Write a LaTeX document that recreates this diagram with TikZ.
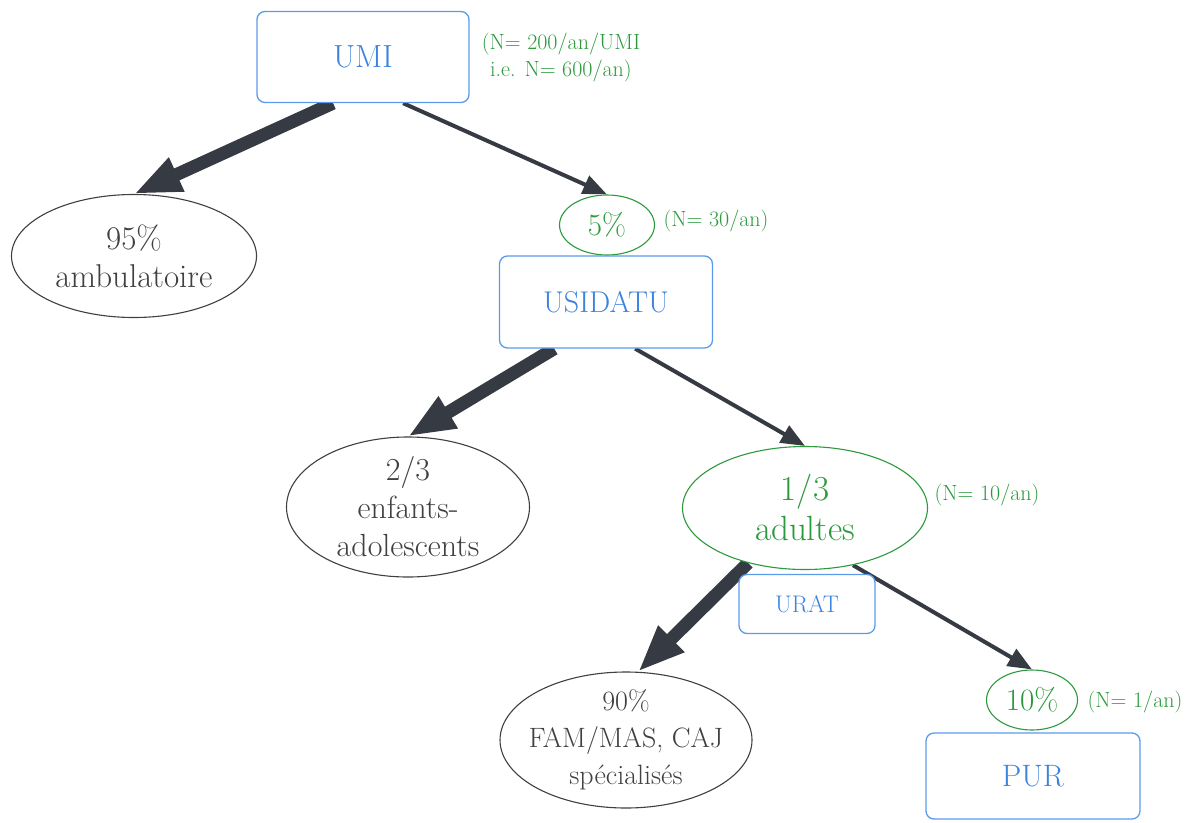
\documentclass[tikz,border=0pt]{standalone}
\usetikzlibrary{arrows.meta,shapes.geometric,backgrounds}
\definecolor{cblue}{HTML}{3A84E0}
\definecolor{cbluebd}{HTML}{5B9BEA}
\definecolor{cgreen}{HTML}{2C9A3C}
\definecolor{cgray}{HTML}{404040}
\definecolor{carrow}{HTML}{363B43}
\tikzset{
  box/.style={draw=cbluebd, line width=1.3pt, rounded corners=8pt, fill=white, text=cblue, inner sep=0pt},
  gell/.style={ellipse, draw=cgray, line width=1.1pt, fill=white, text=cgray, inner sep=-25pt, align=center, font=\fontsize{33}{38}\selectfont},
  pell/.style={ellipse, draw=cgreen, line width=1.1pt, fill=white, text=cgreen, inner sep=0pt, align=center},
  note/.style={text=cgreen, font=\fontsize{22}{27}\selectfont, align=center, inner sep=0pt},
  bigarrow/.style={draw=carrow, line width=13pt, -{Triangle[length=47pt,width=34pt]}},
  thinarrow/.style={draw=carrow, line width=4pt, -{Triangle[length=24pt,width=19pt]}},
}
\begin{document}
\begin{tikzpicture}[x=1pt,y=-1pt]
\useasboundingbox (0,0) rectangle (1191,822);
% nodes
\node[box, minimum width=212pt, minimum height=91pt, font=\fontsize{32}{36}\selectfont] (umi) at (363,57) {UMI};
\node[note] (numi) at (561,58) {(N= 200/an/UMI\\i.e. N= 600/an)};
\node[gell, minimum width=245pt, minimum height=123pt] (amb) at (134,256) {95\%\\ambulatoire};
\node[pell, minimum width=95pt, minimum height=60pt, font=\fontsize{31}{34}\selectfont] (p5) at (607,225) {5\%};
\node[note] (n30) at (716,221) {(N= 30/an)};
\node[box, minimum width=213pt, minimum height=92pt, font=\fontsize{30}{34}\selectfont] (usi) at (606,302) {USIDATU};
\node[gell, minimum width=243pt, minimum height=140pt, font=\fontsize{32}{38}\selectfont] (enf) at (408,507) {2/3\\enfants-\\adolescents};
\node[pell, minimum width=245pt, minimum height=123pt, font=\fontsize{35}{40}\selectfont] (adu) at (805,508) {1/3\\adultes};
\node[note] (n10) at (987,495) {(N= 10/an)};
\node[gell, minimum width=252pt, minimum height=136pt, font=\fontsize{28}{37}\selectfont] (fam) at (626,740) {90\%\\FAM/MAS, CAJ\\spécialisés};
\node[pell, minimum width=91pt, minimum height=60pt, font=\fontsize{31}{34}\selectfont] (p10) at (1032,700) {10\%};
\node[note] (n1) at (1135,702) {(N= 1/an)};
\node[box, minimum width=214pt, minimum height=86pt, font=\fontsize{31}{36}\selectfont] (pur) at (1033,776) {PUR};
\node[box, minimum width=136pt, minimum height=59pt, font=\fontsize{24}{28}\selectfont] (urat) at (807,604) {URAT};
% arrows
\begin{pgfonlayer}{background}
\draw[bigarrow] (umi.-123) -- (amb.north);
\draw[thinarrow] (umi.-49) -- (p5.north);
\draw[bigarrow] (usi.-138) -- (enf.north);
\draw[thinarrow] (usi.-58) -- (adu.north);
\draw[bigarrow] (adu.-136) -- (fam.80);
\draw[thinarrow] (adu.-50) -- (p10.north);
\end{pgfonlayer}
\end{tikzpicture}
\end{document}
